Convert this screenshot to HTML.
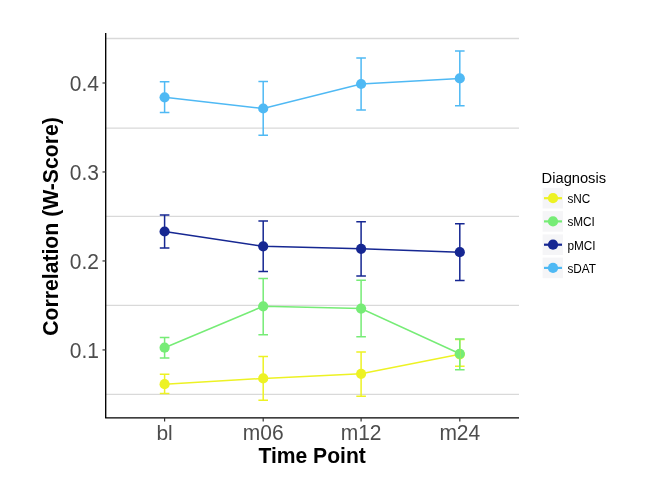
<!DOCTYPE html><html><head><meta charset="utf-8"><style>html,body{margin:0;padding:0;background:#fff;width:662px;height:494px;overflow:hidden}svg{display:block;will-change:transform}text{font-family:"Liberation Sans",Arial,sans-serif}</style></head><body>
<svg width="662" height="494" viewBox="0 0 662 494">
<rect width="662" height="494" fill="#fff"/>
<line x1="105.7" x2="519.0" y1="38.50" y2="38.50" stroke="#D9D9D9" stroke-width="1.3"/>
<line x1="105.7" x2="519.0" y1="128.20" y2="128.20" stroke="#D9D9D9" stroke-width="1.3"/>
<line x1="105.7" x2="519.0" y1="216.40" y2="216.40" stroke="#D9D9D9" stroke-width="1.3"/>
<line x1="105.7" x2="519.0" y1="305.40" y2="305.40" stroke="#D9D9D9" stroke-width="1.3"/>
<line x1="105.7" x2="519.0" y1="394.40" y2="394.40" stroke="#D9D9D9" stroke-width="1.3"/>
<polyline points="164.6,384.2 263.2,378.4 361.1,373.8 459.8,354.3" fill="none" stroke="#EDF224" stroke-width="1.5"/>
<polyline points="164.6,347.7 263.2,306.3 361.1,308.6 459.8,353.8" fill="none" stroke="#76EC76" stroke-width="1.5"/>
<polyline points="164.6,231.5 263.2,246.3 361.1,248.8 459.8,252.2" fill="none" stroke="#162792" stroke-width="1.5"/>
<polyline points="164.6,97.3 263.2,108.5 361.1,84.0 459.8,78.4" fill="none" stroke="#4FB9F4" stroke-width="1.5"/>
<circle cx="164.6" cy="384.2" r="5.1" fill="#EDF224"/>
<circle cx="263.2" cy="378.4" r="5.1" fill="#EDF224"/>
<circle cx="361.1" cy="373.8" r="5.1" fill="#EDF224"/>
<circle cx="459.8" cy="354.3" r="5.1" fill="#EDF224"/>
<circle cx="164.6" cy="347.7" r="5.1" fill="#76EC76"/>
<circle cx="263.2" cy="306.3" r="5.1" fill="#76EC76"/>
<circle cx="361.1" cy="308.6" r="5.1" fill="#76EC76"/>
<circle cx="459.8" cy="353.8" r="5.1" fill="#76EC76"/>
<circle cx="164.6" cy="231.5" r="5.1" fill="#162792"/>
<circle cx="263.2" cy="246.3" r="5.1" fill="#162792"/>
<circle cx="361.1" cy="248.8" r="5.1" fill="#162792"/>
<circle cx="459.8" cy="252.2" r="5.1" fill="#162792"/>
<circle cx="164.6" cy="97.3" r="5.1" fill="#4FB9F4"/>
<circle cx="263.2" cy="108.5" r="5.1" fill="#4FB9F4"/>
<circle cx="361.1" cy="84.0" r="5.1" fill="#4FB9F4"/>
<circle cx="459.8" cy="78.4" r="5.1" fill="#4FB9F4"/>
<path d="M159.8,374.3H169.4M164.6,374.3V393.6M159.8,393.6H169.4" fill="none" stroke="#EDF224" stroke-width="1.5"/>
<path d="M258.4,356.6H268.0M263.2,356.6V400.2M258.4,400.2H268.0" fill="none" stroke="#EDF224" stroke-width="1.5"/>
<path d="M356.3,352.0H365.9M361.1,352.0V396.3M356.3,396.3H365.9" fill="none" stroke="#EDF224" stroke-width="1.5"/>
<path d="M455.0,339.6H464.6M459.8,339.6V366.3M455.0,366.3H464.6" fill="none" stroke="#EDF224" stroke-width="1.5"/>
<path d="M159.8,337.5H169.4M164.6,337.5V358.0M159.8,358.0H169.4" fill="none" stroke="#76EC76" stroke-width="1.5"/>
<path d="M258.4,278.4H268.0M263.2,278.4V334.8M258.4,334.8H268.0" fill="none" stroke="#76EC76" stroke-width="1.5"/>
<path d="M356.3,280.2H365.9M361.1,280.2V336.8M356.3,336.8H365.9" fill="none" stroke="#76EC76" stroke-width="1.5"/>
<path d="M455.0,339.1H464.6M459.8,339.1V369.8M455.0,369.8H464.6" fill="none" stroke="#76EC76" stroke-width="1.5"/>
<path d="M159.8,214.9H169.4M164.6,214.9V248.0M159.8,248.0H169.4" fill="none" stroke="#162792" stroke-width="1.5"/>
<path d="M258.4,220.9H268.0M263.2,220.9V271.5M258.4,271.5H268.0" fill="none" stroke="#162792" stroke-width="1.5"/>
<path d="M356.3,221.8H365.9M361.1,221.8V276.1M356.3,276.1H365.9" fill="none" stroke="#162792" stroke-width="1.5"/>
<path d="M455.0,223.7H464.6M459.8,223.7V280.4M455.0,280.4H464.6" fill="none" stroke="#162792" stroke-width="1.5"/>
<path d="M159.8,81.8H169.4M164.6,81.8V112.5M159.8,112.5H169.4" fill="none" stroke="#4FB9F4" stroke-width="1.5"/>
<path d="M258.4,81.5H268.0M263.2,81.5V135.3M258.4,135.3H268.0" fill="none" stroke="#4FB9F4" stroke-width="1.5"/>
<path d="M356.3,58.1H365.9M361.1,58.1V110.0M356.3,110.0H365.9" fill="none" stroke="#4FB9F4" stroke-width="1.5"/>
<path d="M455.0,50.9H464.6M459.8,50.9V105.8M455.0,105.8H464.6" fill="none" stroke="#4FB9F4" stroke-width="1.5"/>
<path d="M105.7,33.0V417.9H519.0" fill="none" stroke="#000" stroke-width="1.35" stroke-linejoin="round"/>
<line x1="102.5" x2="105.7" y1="82.99" y2="82.99" stroke="#333" stroke-width="1.2"/>
<text transform="translate(99.00,91.29) scale(1,1.06)" text-anchor="end" font-size="21" fill="#4D4D4D">0.4</text>
<line x1="102.5" x2="105.7" y1="171.97" y2="171.97" stroke="#333" stroke-width="1.2"/>
<text transform="translate(99.00,180.27) scale(1,1.06)" text-anchor="end" font-size="21" fill="#4D4D4D">0.3</text>
<line x1="102.5" x2="105.7" y1="260.95" y2="260.95" stroke="#333" stroke-width="1.2"/>
<text transform="translate(99.00,269.25) scale(1,1.06)" text-anchor="end" font-size="21" fill="#4D4D4D">0.2</text>
<line x1="102.5" x2="105.7" y1="349.93" y2="349.93" stroke="#333" stroke-width="1.2"/>
<text transform="translate(99.00,358.23) scale(1,1.06)" text-anchor="end" font-size="21" fill="#4D4D4D">0.1</text>
<line x1="164.6" x2="164.6" y1="417.9" y2="421.4" stroke="#333" stroke-width="1.2"/>
<text transform="translate(164.60,440.00) scale(1,0.98)" text-anchor="middle" font-size="21" fill="#4D4D4D">bl</text>
<line x1="263.2" x2="263.2" y1="417.9" y2="421.4" stroke="#333" stroke-width="1.2"/>
<text transform="translate(263.20,440.00) scale(1,1.06)" text-anchor="middle" font-size="21" fill="#4D4D4D">m06</text>
<line x1="361.1" x2="361.1" y1="417.9" y2="421.4" stroke="#333" stroke-width="1.2"/>
<text transform="translate(361.10,440.00) scale(1,1.06)" text-anchor="middle" font-size="21" fill="#4D4D4D">m12</text>
<line x1="459.8" x2="459.8" y1="417.9" y2="421.4" stroke="#333" stroke-width="1.2"/>
<text transform="translate(459.80,440.00) scale(1,1.06)" text-anchor="middle" font-size="21" fill="#4D4D4D">m24</text>
<text transform="translate(312.10,462.80) scale(1,1.02)" text-anchor="middle" font-size="21.1" font-weight="bold" fill="#000">Time Point</text>
<text transform="translate(57.60,226.50) rotate(-90) scale(1,1.04)" text-anchor="middle" font-size="21.2" font-weight="bold" fill="#000">Correlation (W-Score)</text>
<text transform="translate(541.60,182.60) scale(1,1.02)" text-anchor="start" font-size="14.7" fill="#000">Diagnosis</text>
<rect x="542.6" y="187.9" width="20.4" height="20.6" fill="#F5F5F7"/>
<line x1="544.0" x2="562.0" y1="198.2" y2="198.2" stroke="#EDF224" stroke-width="2.2"/>
<circle cx="553.0" cy="198.2" r="5.1" fill="#EDF224"/>
<text transform="translate(567.40,203.10) scale(1,1.01)" text-anchor="start" font-size="11.8" fill="#000">sNC</text>
<rect x="542.6" y="211.1" width="20.4" height="20.6" fill="#F5F5F7"/>
<line x1="544.0" x2="562.0" y1="221.4" y2="221.4" stroke="#76EC76" stroke-width="2.2"/>
<circle cx="553.0" cy="221.4" r="5.1" fill="#76EC76"/>
<text transform="translate(567.40,226.33) scale(1,1.01)" text-anchor="start" font-size="11.8" fill="#000">sMCI</text>
<rect x="542.6" y="234.4" width="20.4" height="20.6" fill="#F5F5F7"/>
<line x1="544.0" x2="562.0" y1="244.7" y2="244.7" stroke="#162792" stroke-width="2.2"/>
<circle cx="553.0" cy="244.7" r="5.1" fill="#162792"/>
<text transform="translate(567.40,249.56) scale(1,1.01)" text-anchor="start" font-size="11.8" fill="#000">pMCI</text>
<rect x="542.6" y="257.6" width="20.4" height="20.6" fill="#F5F5F7"/>
<line x1="544.0" x2="562.0" y1="267.9" y2="267.9" stroke="#4FB9F4" stroke-width="2.2"/>
<circle cx="553.0" cy="267.9" r="5.1" fill="#4FB9F4"/>
<text transform="translate(567.40,272.79) scale(1,1.01)" text-anchor="start" font-size="11.8" fill="#000">sDAT</text>
</svg></body></html>
